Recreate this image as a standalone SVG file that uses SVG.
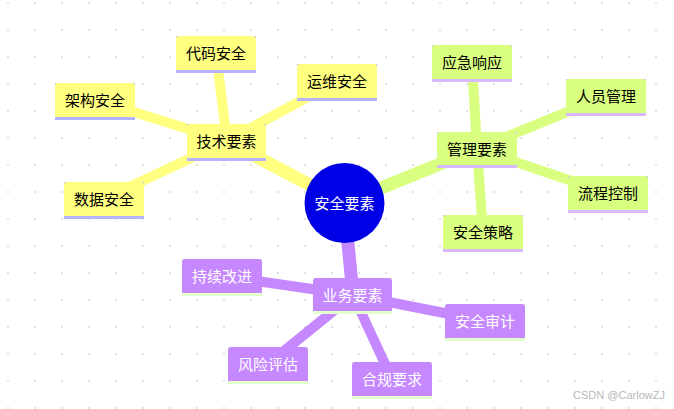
<svg xmlns="http://www.w3.org/2000/svg" width="674" height="409" viewBox="0 0 674 409">
<defs>
<pattern id="dots" patternUnits="userSpaceOnUse" x="7" y="2" width="27" height="27">
<rect x="0" y="0" width="2" height="2" fill="#e2e2e2"/>
</pattern>
<style>
text{font-family:"Noto Sans CJK SC","Noto Sans",sans-serif;font-size:15px;text-anchor:middle}
.t rect.b{fill:#ffff80}.t rect.u{fill:#b3b3ff}.t text{fill:#000}
.m rect.b{fill:#d9ff80}.m rect.u{fill:#d9b8ff}.m text{fill:#000}
.p rect.b{fill:#c688ff}.p rect.u{fill:#e3ffcc}.p text{fill:#fff}
.ct line{stroke:#ffff80}.cm line{stroke:#d9ff80}.cp line{stroke:#c688ff}
.c1{stroke-width:13}.c2{stroke-width:10}
</style>
</defs>
<rect width="674" height="409" fill="#fff"/>
<rect width="674" height="409" fill="url(#dots)"/>
<g id="connectors" stroke-linecap="butt">
<g class="ct">
<line class="c1" x1="344" y1="203" x2="227" y2="141"/>
<line class="c2" x1="227" y1="141" x2="216" y2="53"/>
<line class="c2" x1="227" y1="141" x2="337" y2="81"/>
<line class="c2" x1="227" y1="141" x2="95" y2="100"/>
<line class="c2" x1="227" y1="141" x2="104" y2="199"/>
</g>
<g class="cm">
<line class="c1" x1="344" y1="203" x2="477" y2="149"/>
<line class="c2" x1="477" y1="149" x2="472" y2="62"/>
<line class="c2" x1="477" y1="149" x2="606" y2="96"/>
<line class="c2" x1="477" y1="149" x2="608" y2="193"/>
<line class="c2" x1="477" y1="149" x2="483" y2="232"/>
</g>
<g class="cp">
<line class="c1" x1="344" y1="203" x2="353" y2="295"/>
<line class="c2" x1="353" y1="295" x2="222" y2="276"/>
<line class="c2" x1="353" y1="295" x2="485" y2="321"/>
<line class="c2" x1="353" y1="295" x2="268" y2="364"/>
<line class="c2" x1="353" y1="295" x2="392" y2="379"/>
</g>
</g>
<g id="n-tech" class="t"><rect class="u" x="187" y="124" width="79" height="37"/><rect class="b" x="187" y="124" width="79" height="34" rx="3"/><rect class="b" x="187" y="150" width="79" height="8"/><text x="226.5" y="147">技术要素</text></g>
<g id="n-code" class="t"><rect class="u" x="176" y="36" width="80" height="37"/><rect class="b" x="176" y="36" width="80" height="34" rx="3"/><rect class="b" x="176" y="62" width="80" height="8"/><text x="216" y="59">代码安全</text></g>
<g id="n-ops" class="t"><rect class="u" x="297" y="64" width="80" height="37"/><rect class="b" x="297" y="64" width="80" height="34" rx="3"/><rect class="b" x="297" y="90" width="80" height="8"/><text x="337" y="87">运维安全</text></g>
<g id="n-arch" class="t"><rect class="u" x="55" y="83" width="80" height="37"/><rect class="b" x="55" y="83" width="80" height="34" rx="3"/><rect class="b" x="55" y="109" width="80" height="8"/><text x="95" y="106">架构安全</text></g>
<g id="n-data" class="t"><rect class="u" x="64" y="182" width="80" height="37"/><rect class="b" x="64" y="182" width="80" height="34" rx="3"/><rect class="b" x="64" y="208" width="80" height="8"/><text x="104" y="205">数据安全</text></g>
<g id="n-mgmt" class="m"><rect class="u" x="437" y="132" width="80" height="36"/><rect class="b" x="437" y="132" width="80" height="33" rx="3"/><rect class="b" x="437" y="157" width="80" height="8"/><text x="477" y="155">管理要素</text></g>
<g id="n-emerg" class="m"><rect class="u" x="432" y="45" width="80" height="37"/><rect class="b" x="432" y="45" width="80" height="34" rx="3"/><rect class="b" x="432" y="71" width="80" height="8"/><text x="472" y="68">应急响应</text></g>
<g id="n-people" class="m"><rect class="u" x="566" y="79" width="80" height="37"/><rect class="b" x="566" y="79" width="80" height="34" rx="3"/><rect class="b" x="566" y="105" width="80" height="8"/><text x="606" y="102">人员管理</text></g>
<g id="n-process" class="m"><rect class="u" x="568" y="176" width="80" height="37"/><rect class="b" x="568" y="176" width="80" height="34" rx="3"/><rect class="b" x="568" y="202" width="80" height="8"/><text x="608" y="199">流程控制</text></g>
<g id="n-policy" class="m"><rect class="u" x="443" y="215" width="80" height="37"/><rect class="b" x="443" y="215" width="80" height="34" rx="3"/><rect class="b" x="443" y="241" width="80" height="8"/><text x="483" y="238">安全策略</text></g>
<g id="n-biz" class="p"><rect class="u" x="313" y="278" width="79" height="36"/><rect class="b" x="313" y="278" width="79" height="33" rx="3"/><rect class="b" x="313" y="303" width="79" height="8"/><text x="352.5" y="301">业务要素</text></g>
<g id="n-improve" class="p"><rect class="u" x="182" y="259" width="80" height="37"/><rect class="b" x="182" y="259" width="80" height="34" rx="3"/><rect class="b" x="182" y="285" width="80" height="8"/><text x="222" y="282">持续改进</text></g>
<g id="n-audit" class="p"><rect class="u" x="445" y="304" width="80" height="37"/><rect class="b" x="445" y="304" width="80" height="34" rx="3"/><rect class="b" x="445" y="330" width="80" height="8"/><text x="485" y="327">安全审计</text></g>
<g id="n-risk" class="p"><rect class="u" x="228" y="347" width="80" height="37"/><rect class="b" x="228" y="347" width="80" height="34" rx="3"/><rect class="b" x="228" y="373" width="80" height="8"/><text x="268" y="370">风险评估</text></g>
<g id="n-comply" class="p"><rect class="u" x="352" y="362" width="80" height="37"/><rect class="b" x="352" y="362" width="80" height="34" rx="3"/><rect class="b" x="352" y="388" width="80" height="8"/><text x="392" y="385">合规要求</text></g>
<g id="n-center"><circle cx="344.5" cy="203" r="40" fill="#0000e6"/><text x="344.5" y="209" fill="#fff">安全要素</text></g>
<text x="619" y="399" style="font-family:'Liberation Sans',sans-serif;font-size:11px;fill:#b8b8b8">CSDN @CarlowZJ</text>
</svg>
